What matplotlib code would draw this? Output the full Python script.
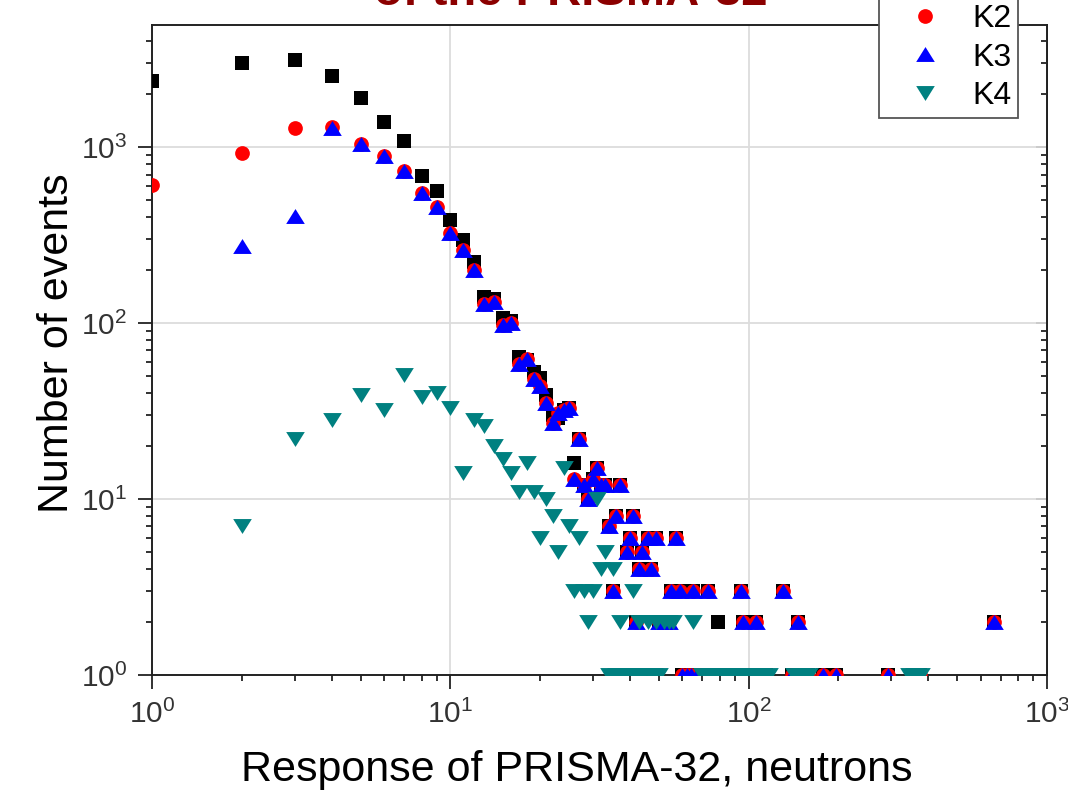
import matplotlib
matplotlib.use('Agg')
import matplotlib.pyplot as plt

plt.rcParams['font.family'] = ['Liberation Sans', 'DejaVu Sans']
plt.rcParams['mathtext.fontset'] = 'custom'
plt.rcParams['mathtext.rm'] = 'Liberation Sans'
plt.rcParams['mathtext.it'] = 'Liberation Sans:italic'
plt.rcParams['mathtext.bf'] = 'Liberation Sans:bold'

# K3 - response (neutrons) / number of events
k3_x = [2, 3, 4, 5, 6, 7, 8, 9, 10, 11, 12, 13, 14, 15, 16, 17, 18, 19, 20, 21,
        22, 23, 24, 25, 26, 27, 28, 29, 30, 31, 32, 33, 34, 35, 36, 37, 39, 40,
        41, 42, 43, 44, 46, 47, 49, 50, 52, 54, 55, 57, 59, 60, 62, 64, 65, 67,
        69, 71, 73, 75, 78, 81, 85, 89, 94, 96, 99, 103, 106, 110, 114, 130,
        140, 146, 158, 178, 197, 294, 355, 375, 668]
k3_y = [274, 405, 1280, 1050, 890, 730, 550, 458, 326, 261, 201, 128, 132, 98,
        100, 59, 63, 48, 44, 35, 27, 31, 32, 33, 13, 22, 12, 10, 13, 15, 12, 12,
        7, 3, 8, 12, 5, 6, 8, 2, 4, 5, 6, 4, 6, 2, 2, 2, 3, 6, 3, 1, 1, 1, 3, 1,
        1, 1, 3, 1, 1, 1, 1, 1, 3, 2, 1, 1, 2, 1, 1, 3, 1, 2, 1, 1, 1, 1, 1, 1, 2]

# K2 differs from K3 only at the lowest responses
k2_head_x = [1, 2, 3, 4]
k2_head_y = [608, 925, 1283, 1300]
k2_x = k2_head_x + k3_x[3:]
k2_y = k2_head_y + k3_y[3:]

# K1 - sits above the others up to ~27 neutrons
k1_head_x = [1, 2, 3, 4, 5, 6, 7, 8, 9, 10, 11, 12, 13, 14, 15, 16, 17, 18, 19,
             20, 21, 22, 23, 24, 25, 26, 27]
k1_head_y = [2370, 3000, 3120, 2560, 1900, 1400, 1080, 685, 563, 386, 297, 223,
             141, 137, 107, 103, 64, 62, 53, 49, 39, 30, 29, 32, 33, 16, 22]
k1_extra_x = [79]
k1_extra_y = [2]
k1_x = k1_head_x + k3_x[26:] + k1_extra_x
k1_y = k1_head_y + k3_y[26:] + k1_extra_y

# K4
k4_x = [2, 3, 4, 5, 6, 7, 8, 9, 10, 11, 12, 13, 14, 15, 16, 17, 18, 19, 20, 21,
        22, 23, 24, 25, 26, 27, 28, 29, 30, 31, 32, 33, 34, 35, 36, 37, 38, 40,
        41, 42, 43, 44, 46, 47, 48, 49, 50, 52, 54, 56, 65, 70, 74, 78, 83, 88,
        93, 98, 104, 110, 117, 142, 150, 160, 345, 360, 380]
k4_y = [7, 22, 28, 39, 32, 51, 38, 40, 33, 14, 28, 26, 20, 17, 14, 11, 16, 11, 6,
        10, 8, 5, 15, 7, 3, 6, 3, 2, 3, 10, 4, 5, 1, 4, 1, 2, 1, 1, 3, 1, 2, 1,
        2, 1, 1, 2, 1, 2, 2, 2, 2, 1, 1, 1, 1, 1, 1, 1, 1, 1, 1, 1, 1, 1, 1, 1, 1]

tri_up = [(-1, -0.8), (1, -0.8), (0, 0.8)]
tri_down = [(-1, 0.8), (1, 0.8), (0, -0.8)]

fig = plt.figure(figsize=(10.68, 8.02), dpi=100)
ax = fig.add_axes([152.3 / 1068, 1 - 675 / 802, 894.4 / 1068, 650 / 802])

ax.plot(k1_x, k1_y, linestyle='none', marker='s', ms=9.6, mew=0, color='black', label='K1', zorder=3)
ax.plot(k2_x, k2_y, linestyle='none', marker='o', ms=10.6, mew=0, color='#ff0000', label='K2', zorder=4)
ax.plot(k3_x, k3_y, linestyle='none', marker=tri_up, ms=13.4, mew=0, color='#0000ff', label='K3', zorder=5)
ax.plot(k4_x, k4_y, linestyle='none', marker=tri_down, ms=13.4, mew=0, color='#008080', label='K4', zorder=6)

ax.set_xscale('log')
ax.set_yscale('log')
ax.set_xlim(1, 1000)
ax.set_ylim(1, 4960)

ax.grid(True, which='major', color='#dcdcdc', linewidth=1.3, zorder=0)
ax.set_axisbelow(True)
for sp in ax.spines.values():
    sp.set_linewidth(1.4)
    sp.set_color('#222222')

ax.tick_params(which='both', direction='out', top=False, right=False,
               labelsize=21.5, labelcolor='#333333', width=1.3, color='#222222')
ax.tick_params(which='major', length=10, pad=8)
ax.tick_params(which='minor', length=4.5)

right = ax.secondary_yaxis('right')
right.tick_params(which='both', direction='in', labelright=False, width=1.3, color='#222222')
right.tick_params(which='major', length=8)
right.tick_params(which='minor', length=4.5)
right.spines['right'].set_linewidth(1.4)

ax.set_xlabel('Response of PRISMA-32, neutrons', fontsize=31, va='center')
ax.xaxis.set_label_coords(0.475, -0.146)
ax.set_ylabel('Number of events', fontsize=31, va='center')
ax.yaxis.set_label_coords(-0.106, 0.51)

fig.text(571 / 1068, 1 - 5 / 802, 'of the PRISMA-32', color='#8b0000',
         fontsize=34, fontweight='bold', ha='center', va='baseline')

leg = ax.legend(loc='lower right', bbox_to_anchor=(1018.3 / 1068, 1 - 118.3 / 802),
                bbox_transform=fig.transFigure, borderaxespad=0, fontsize=23,
                numpoints=1, fancybox=False, framealpha=1, edgecolor='#555555',
                borderpad=0.22, labelspacing=0.27, handlelength=2.4, handletextpad=0.28)
leg.get_frame().set_linewidth(1.3)

fig.savefig('out.png', dpi=100)
